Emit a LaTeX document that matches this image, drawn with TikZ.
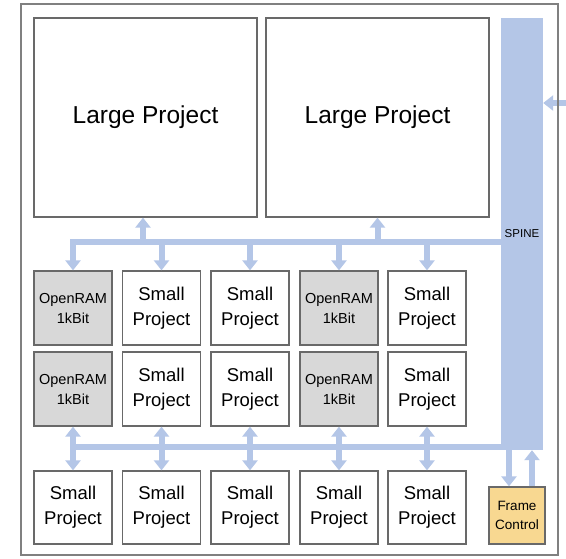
\documentclass[tikz,border=0pt]{standalone}
\usepackage{fontspec}
\setmainfont{Liberation Sans}
\usetikzlibrary{arrows.meta}

\definecolor{busblue}{RGB}{180,198,231}
\definecolor{boxline}{RGB}{105,105,105}
\definecolor{ramgray}{RGB}{216,216,216}
\definecolor{ctrlyellow}{RGB}{248,216,145}

\begin{document}
\begin{tikzpicture}[x=1pt,y=-1pt,
  blk/.style={draw=boxline,line width=1.3pt,fill=white,inner sep=0pt,align=center},
  large/.style={blk,minimum width=223pt,minimum height=199pt,font=\fontsize{24.5}{30}\selectfont},
  small/.style={blk,minimum width=78pt,minimum height=74pt,font=\fontsize{18.5}{25}\selectfont},
  ram/.style={small,fill=ramgray,font=\fontsize{14.5}{20}\selectfont},
  ctrl/.style={blk,fill=ctrlyellow,minimum width=56pt,minimum height=57pt,font=\fontsize{13.5}{19}\selectfont},
  bus/.style={draw=busblue,line width=6pt},
  arr/.style={bus,-{Triangle[width=15pt,length=10pt]}},
  darr/.style={bus,{Triangle[width=15pt,length=10pt]}-{Triangle[width=15pt,length=10pt]}}
]
\useasboundingbox (0,0) rectangle (566,558);
\fill[white] (0,0) rectangle (566,558);

% large projects
\node[large] (lp1) at (145.5,117.5) {Large Project};
\node[large] (lp2) at (377.5,117.5) {Large Project};

% spine
\node[fill=busblue,minimum width=42pt,minimum height=432pt,inner sep=0pt,
      font=\fontsize{11.5}{13}\selectfont] (spine) at (522,234) {SPINE};

% grid of small projects and memories
\node[ram]   (a1) at (73,308)    {OpenRAM\\1kBit};
\node[small] (a2) at (161.5,308) {Small\\Project};
\node[small] (a3) at (250,308)   {Small\\Project};
\node[ram]   (a4) at (339,308)   {OpenRAM\\1kBit};
\node[small] (a5) at (427,308)   {Small\\Project};

\node[ram]   (b1) at (73,389)    {OpenRAM\\1kBit};
\node[small] (b2) at (161.5,389) {Small\\Project};
\node[small] (b3) at (250,389)   {Small\\Project};
\node[ram]   (b4) at (339,389)   {OpenRAM\\1kBit};
\node[small] (b5) at (427,389)   {Small\\Project};

\node[small,minimum height=73pt] (c1) at (73,507.5)    {Small\\Project};
\node[small,minimum height=73pt] (c2) at (161.5,507.5) {Small\\Project};
\node[small,minimum height=73pt] (c3) at (250,507.5)   {Small\\Project};
\node[small,minimum height=73pt] (c4) at (339,507.5)   {Small\\Project};
\node[small,minimum height=73pt] (c5) at (427,507.5)   {Small\\Project};

\node[ctrl] (fc) at (517,515.5) {Frame\\Control};

% upper bus
\coordinate (tbL) at (70,242);
\coordinate (tbR) at (502,242);
\draw[bus] (tbL) -- (tbR);
\draw[arr] ([yshift=-3pt]a1.north |- tbL) -- (a1.north);
\foreach \n in {a2,a3,a4,a5}{
  \draw[arr] (\n.north |- tbL) -- (\n.north);
}
\coordinate (up1) at (143,242);
\draw[arr] (up1) -- (up1 |- lp1.south);
\draw[arr] (lp2.south |- tbL) -- (lp2.south);

% lower bus
\coordinate (bbL) at (70,447);
\coordinate (bbR) at (502,447);
\draw[bus] (bbL) -- (bbR);
\foreach \m/\n in {b1/c1,b2/c2,b3/c3,b4/c4,b5/c5}{
  \draw[darr] (\m.south) -- (\n.north);
}

% frame control links
\coordinate (fcin) at (509,447);
\draw[arr] ([yshift=-3pt]fcin) -- (fcin |- fc.north);
\draw[arr] ([xshift=15pt]fc.north) -- ([xshift=15pt]fc.north |- spine.south);

% external input
\coordinate (ext) at (568,103);
\draw[arr] (ext) -- (ext -| spine.east);

% outer frame
\draw[draw=boxline!85,line width=1.3pt] (21,4) rectangle (558,555);
\end{tikzpicture}
\end{document}
